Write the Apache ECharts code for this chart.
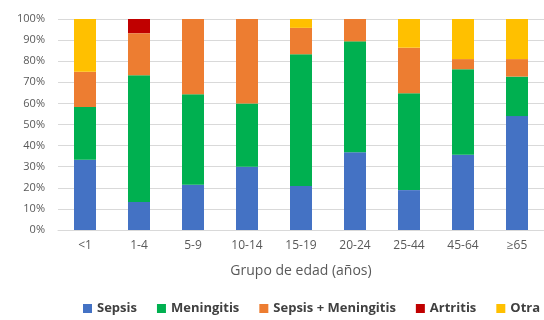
<!DOCTYPE html>
<html><head><meta charset="utf-8">
<script src="https://cdn.jsdelivr.net/npm/echarts@6/dist/echarts.min.js"></script>
<style>html,body{margin:0;padding:0;background:#fff}#c{width:544px;height:320px}</style>
</head><body><div id="c"></div>
<script>
const categories = ['<1','1-4','5-9','10-14','15-19','20-24','25-44','45-64','≥65'];
const sepsis      = [33.3, 13.3, 21.4, 30.0, 20.8, 36.8, 18.9, 35.7, 54.0];
const meningitis  = [25.0, 60.0, 42.9, 30.0, 62.5, 52.6, 45.9, 40.5, 18.7];
const sepsisMen   = [16.7, 20.0, 35.7, 40.0, 12.5, 10.6, 21.6, 4.8, 8.3];
const artritis    = [0, 6.7, 0, 0, 0, 0, 0, 0, 0];
const otra        = [25.0, 0, 0, 0, 4.2, 0, 13.6, 19.0, 19.0];
const yTicks = [0,10,20,30,40,50,60,70,80,90,100];

const font = 'Open Sans, Noto Sans, sans-serif';
function s(name, data, color){
  return {name, type:'bar', stack:'t', data, barWidth:22, itemStyle:{color}, emphasis:{disabled:true}};
}
const chart = echarts.init(document.getElementById('c'));
chart.setOption({
  animation:false,
  textStyle:{fontFamily:font},
  grid:{left:58, top:19, width:500, height:211},
  xAxis:{type:'category', data:categories,
    axisLine:{lineStyle:{color:'#d9d9d9'}}, axisTick:{show:false},
    axisLabel:{color:'#595959', fontSize:12, margin:10, fontFamily:font},
    name:'Grupo de edad (años)', nameLocation:'middle', nameGap:34,
    nameTextStyle:{color:'#595959', fontSize:14, fontFamily:font}},
  yAxis:{type:'value', min:0, max:100, interval:10,
    axisLabel:{color:'#595959', fontSize:11, formatter:v=>yTicks.includes(v)?v+'%':'', margin:13, fontFamily:font},
    splitLine:{lineStyle:{color:'#d9d9d9'}}, axisLine:{show:false}, axisTick:{show:false}},
  legend:{bottom:0, left:78, width:480, itemWidth:9, itemHeight:9, itemGap:20, icon:'rect',
    textStyle:{color:'#404040', fontSize:13, fontWeight:'bold', fontFamily:font}},
  series:[
    s('Sepsis', sepsis, '#4472C4'),
    s('Meningitis', meningitis, '#00B050'),
    s('Sepsis + Meningitis', sepsisMen, '#ED7D31'),
    s('Artritis', artritis, '#C00000'),
    s('Otra', otra, '#FFC000')
  ]
});
</script></body></html>
